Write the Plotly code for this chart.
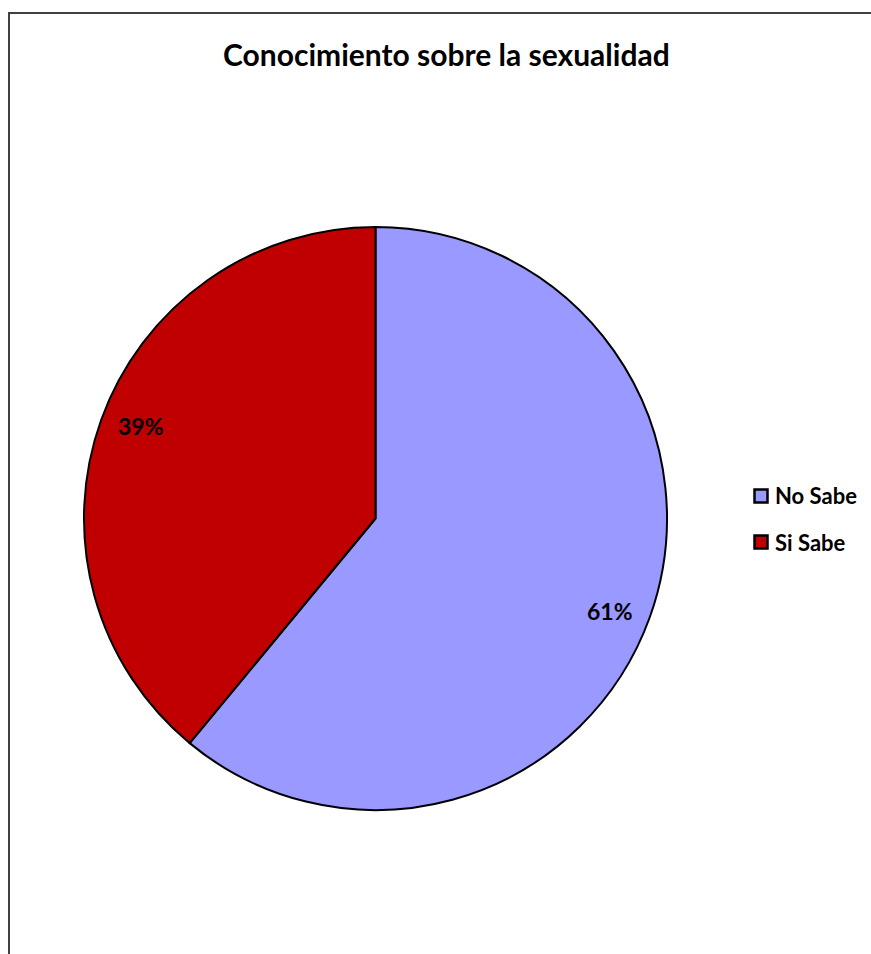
import math
import plotly.graph_objects as go

# Survey results: knowledge about sexuality
categories = ["No Sabe", "Si Sabe"]
values = [61, 39]
colors = ["#9999FF", "#C00000"]
title_text = "Conocimiento sobre la sexualidad"

W, H = 871, 954
FONT = "Lato, 'Open Sans', sans-serif"

# pie geometry in pixels
cx, cy, r = 375.5, 518.5, 291.5
LABEL_R = 0.865          # label distance as fraction of radius
LABEL_SHIFT = 1.8        # degrees, clockwise nudge of the labels

def px_x(x):
    return x / W

def px_y(y):
    return 1 - y / H

fig = go.Figure()
fig.add_trace(go.Pie(
    labels=categories,
    values=values,
    marker=dict(colors=colors, line=dict(color="black", width=2)),
    sort=False,
    direction="clockwise",
    rotation=0,
    textinfo="none",
    hoverinfo="label+percent",
    showlegend=False,
    domain=dict(x=[px_x(cx - r), px_x(cx + r)], y=[px_y(cy + r), px_y(cy - r)]),
))

annotations = []
shapes = []

# percentage labels placed along each slice's mid-angle
total = sum(values)
start = 0.0
for v in values:
    frac = v / total
    mid = (start + frac / 2) * 2 * math.pi + math.radians(LABEL_SHIFT)
    lx = cx + LABEL_R * r * math.sin(mid)
    ly = cy - LABEL_R * r * math.cos(mid)
    annotations.append(dict(
        x=px_x(lx), y=px_y(ly), xref="paper", yref="paper",
        text=f"<b>{round(frac * 100)}%</b>", showarrow=False,
        font=dict(family=FONT, size=23, color="black"),
        xanchor="center", yanchor="middle",
    ))
    start += frac

# legend entries
for i, (cat, col) in enumerate(zip(categories, colors)):
    yc = 496 + i * 46
    shapes.append(dict(
        type="rect", xref="paper", yref="paper",
        x0=px_x(754.5), x1=px_x(767.5), y0=px_y(yc + 6.5), y1=px_y(yc - 6.5),
        fillcolor=col, line=dict(color="black", width=2.5),
    ))
    annotations.append(dict(
        x=px_x(773), y=px_y(yc), xref="paper", yref="paper",
        text=f"<b>{cat}</b>", showarrow=False,
        font=dict(family=FONT, size=22, color="black"),
        xanchor="left", yanchor="middle",
    ))

# title
annotations.append(dict(
    x=px_x(446), y=px_y(54), xref="paper", yref="paper",
    text=f"<b>{title_text}</b>", showarrow=False,
    font=dict(family=FONT, size=30, color="black"),
    xanchor="center", yanchor="middle",
))

# chart area frame
shapes.append(dict(
    type="rect", xref="paper", yref="paper",
    x0=px_x(9), x1=1.05, y0=-0.05, y1=px_y(13),
    line=dict(color="#404040", width=2), fillcolor="rgba(0,0,0,0)",
    layer="below",
))

fig.update_layout(
    width=W, height=H,
    margin=dict(l=0, r=0, t=0, b=0),
    paper_bgcolor="white",
    plot_bgcolor="white",
    annotations=annotations,
    shapes=shapes,
)

fig.write_html("out.html")
